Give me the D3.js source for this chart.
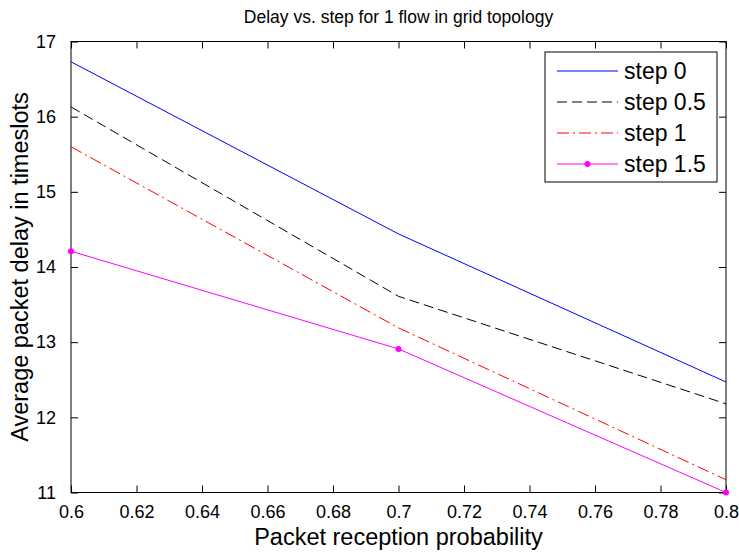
<!DOCTYPE html>
<html>
<head>
<meta charset="utf-8">
<script src="https://cdn.jsdelivr.net/npm/d3@7"></script>
<style>
  html, body { margin: 0; padding: 0; background: #fff; }
  svg { display: block; font-family: "Liberation Sans", Arial, Helvetica, sans-serif; }
</style>
</head>
<body>
<svg id="chart" width="739" height="554"></svg>
<script>
// Packet reception probability (x) and average delay per step setting
const probabilities = [0.6, 0.7, 0.8];
const seriesNames = ["step 0", "step 0.5", "step 1", "step 1.5"];
const delayStep0 = [16.73, 14.44, 12.47];
const delayStep05 = [16.13, 13.61, 12.18];
const delayStep1 = [15.60, 13.19, 11.17];
const delayStep15 = [14.21, 12.91, 11.00];
const xTickValues = [0.6, 0.62, 0.64, 0.66, 0.68, 0.7, 0.72, 0.74, 0.76, 0.78, 0.8];
const xTickLabels = ["0.6", "0.62", "0.64", "0.66", "0.68", "0.7", "0.72", "0.74", "0.76", "0.78", "0.8"];
const yTickValues = [11, 12, 13, 14, 15, 16, 17];
const yTickLabels = ["11", "12", "13", "14", "15", "16", "17"];

const seriesValues = [delayStep0, delayStep05, delayStep1, delayStep15];
const seriesStyles = [
  { color: "#0000ff", dash: null, marker: false },
  { color: "#000000", dash: "10,5", marker: false },
  { color: "#ff0000", dash: "12,4,2,4", marker: false },
  { color: "#ff00ff", dash: null, marker: true }
];

const svg = d3.select("#chart");
const plot = { left: 71, top: 41.5, right: 726, bottom: 492.5 };

const x = d3.scaleLinear().domain([0.6, 0.8]).range([plot.left, plot.right]);
const y = d3.scaleLinear().domain([11, 17]).range([plot.bottom, plot.top]);

const tickLen = 7;
const tickFont = 18;

// Axes: labelled bottom/left, mirrored unlabelled ticks on top/right, all ticks pointing inward
const axisBottom = d3.axisBottom(x).tickValues(xTickValues)
  .tickFormat((d, i) => xTickLabels[i]).tickSizeInner(-tickLen).tickSizeOuter(0).tickPadding(13);
const axisTop = d3.axisTop(x).tickValues(xTickValues).tickFormat("")
  .tickSizeInner(-tickLen).tickSizeOuter(0);
const axisLeft = d3.axisLeft(y).tickValues(yTickValues)
  .tickFormat((d, i) => yTickLabels[i]).tickSizeInner(-tickLen).tickSizeOuter(0).tickPadding(15);
const axisRight = d3.axisRight(y).tickValues(yTickValues).tickFormat("")
  .tickSizeInner(-tickLen).tickSizeOuter(0);

function styleAxis(g) {
  g.select(".domain").remove();
  g.selectAll(".tick line").attr("stroke", "#000").attr("stroke-width", 1);
  g.selectAll(".tick text").attr("fill", "#000").attr("font-size", tickFont)
    .attr("font-family", "\"Liberation Sans\", Arial, sans-serif");
}

svg.append("g").attr("transform", `translate(0,${plot.bottom})`).call(axisBottom).call(styleAxis);
svg.append("g").attr("transform", `translate(0,${plot.top})`).call(axisTop).call(styleAxis);
svg.append("g").attr("transform", `translate(${plot.left},0)`).call(axisLeft).call(styleAxis);
svg.append("g").attr("transform", `translate(${plot.right},0)`).call(axisRight).call(styleAxis);

// Plot box
svg.append("rect")
  .attr("x", plot.left).attr("y", plot.top)
  .attr("width", plot.right - plot.left).attr("height", plot.bottom - plot.top)
  .attr("fill", "none").attr("stroke", "#000").attr("stroke-width", 1);

// Series lines
const line = d3.line().x((d, i) => x(probabilities[i])).y(d => y(d));

seriesValues.forEach((vals, si) => {
  const st = seriesStyles[si];
  svg.append("path")
    .datum(vals)
    .attr("d", line)
    .attr("fill", "none")
    .attr("stroke", st.color)
    .attr("stroke-width", 1)
    .attr("stroke-dasharray", st.dash);
  if (st.marker) {
    svg.selectAll(null).data(vals).enter().append("circle")
      .attr("cx", (d, i) => x(probabilities[i]))
      .attr("cy", d => y(d))
      .attr("r", 3)
      .attr("fill", st.color);
  }
});

// Title and axis labels
svg.append("text")
  .attr("x", (plot.left + plot.right) / 2).attr("y", 23)
  .attr("text-anchor", "middle").attr("font-size", 17.5).attr("fill", "#000")
  .text("Delay vs. step for 1 flow in grid topology");

svg.append("text")
  .attr("x", (plot.left + plot.right) / 2).attr("y", 545)
  .attr("text-anchor", "middle").attr("font-size", 23.5).attr("fill", "#000")
  .text("Packet reception probability");

svg.append("text")
  .attr("transform", `translate(28,${(plot.top + plot.bottom) / 2}) rotate(-90)`)
  .attr("text-anchor", "middle").attr("font-size", 23.5).attr("fill", "#000")
  .text("Average packet delay in timeslots");

// Legend
const legend = svg.append("g");
legend.append("rect")
  .attr("x", 545).attr("y", 52).attr("width", 172).attr("height", 130)
  .attr("fill", "#fff").attr("stroke", "#000").attr("stroke-width", 1);

seriesNames.forEach((name, i) => {
  const st = seriesStyles[i];
  const ry = 71 + i * 31;
  legend.append("line")
    .attr("x1", 557).attr("x2", 618).attr("y1", ry).attr("y2", ry)
    .attr("stroke", st.color).attr("stroke-width", 1)
    .attr("stroke-dasharray", st.dash);
  if (st.marker) {
    legend.append("circle").attr("cx", 587.5).attr("cy", ry).attr("r", 3).attr("fill", st.color);
  }
  legend.append("text")
    .attr("x", 624).attr("y", ry + 8)
    .attr("font-size", 23).attr("fill", "#000")
    .text(name);
});
</script>
</body>
</html>
